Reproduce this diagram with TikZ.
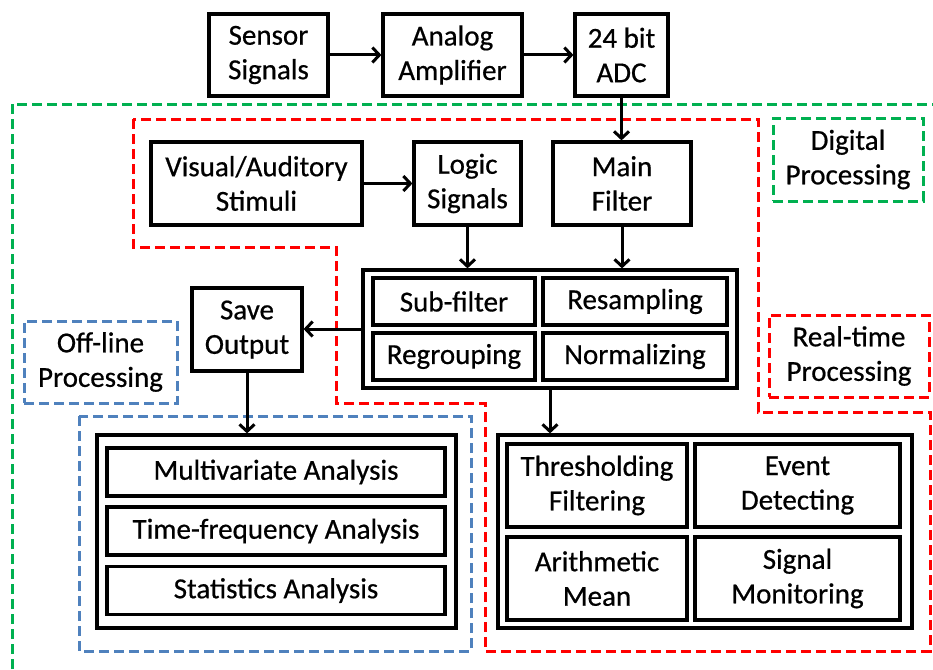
\documentclass[tikz,border=0pt]{standalone}
\usepackage{fontspec}
\setmainfont{Carlito}[FakeBold=0.6]
\usetikzlibrary{arrows.meta}
\definecolor{zonegreen}{RGB}{0,176,80}
\definecolor{zonered}{RGB}{255,0,0}
\definecolor{zoneblue}{RGB}{79,129,189}

\begin{document}
\begin{tikzpicture}[x=1pt,y=-1pt,
  txt/.style={font=\fontsize{29}{34.5}\selectfont, align=center},
  box/.style={txt, draw=black, line width=3.2pt, fill=white, inner sep=0pt},
  frame/.style={draw=black, line width=3.2pt, inner sep=0pt},
  zone/.style={line width=3pt, dash pattern=on 10pt off 5pt},
  tag/.style={txt, zone, inner sep=0pt},
  link/.style={line width=3pt, -{Straight Barb[length=7pt,width=15pt]}}
]
\useasboundingbox (0,0) rectangle (933,669);

% ---- processing zones (dashed outlines) ----
\draw[zone, zonegreen] (12,669) -- (12,104) -- (933,104);
\draw[zone, zonered] (133,119) -- (133,247) -- (336,247) -- (336,403)
  -- (485,403) -- (485,651) -- (930,651) -- (930,412) -- (758,412)
  -- (758,119) -- cycle;
\draw[zone, zoneblue] (79,416) rectangle (471,651);

\node[tag, draw=zonegreen, minimum width=150pt, minimum height=83pt] (digital) at (848,159.5) {Digital\\Processing};
\node[tag, draw=zonered, minimum width=160pt, minimum height=82pt] (realtime) at (849,356) {Real-time\\Processing};
\node[tag, draw=zoneblue, minimum width=153pt, minimum height=82pt] (offline) at (100.5,362) {Off-line\\Processing};

% ---- acquisition chain ----
\node[box, minimum width=119pt, minimum height=82pt] (sensor) at (268.5,55) {Sensor\\Signals};
\node[box, minimum width=139pt, minimum height=82pt] (amp) at (452.5,55) {Analog\\Amplifier};
\node[box, minimum width=93pt, minimum height=82pt] (adc) at (621.5,55) {24 bit\\ADC};

% ---- real-time inputs ----
\node[box, minimum width=211pt, minimum height=83pt] (stim) at (256.5,183.5) {Visual/Auditory\\Stimuli};
\node[box, minimum width=107pt, minimum height=83pt] (logic) at (467.5,183.5) {Logic\\Signals};
\node[box, minimum width=138pt, minimum height=83pt] (mainf) at (622,183.5) {Main\\Filter};

% ---- preprocessing group ----
\node[frame, minimum width=374pt, minimum height=118pt] (pre) at (550,329) {};
\node[box, minimum width=162pt, minimum height=47pt] (subf) at (454,301.5) {Sub-filter};
\node[box, minimum width=184pt, minimum height=47pt] (resamp) at (635,301.5) {Resampling};
\node[box, minimum width=162pt, minimum height=47pt] (regroup) at (454,356.5) {Regrouping};
\node[box, minimum width=184pt, minimum height=47pt] (norm) at (635,356.5) {Normalizing};

\node[box, minimum width=110pt, minimum height=83pt] (save) at (247,329.5) {Save\\Output};

% ---- off-line analysis group ----
\node[frame, minimum width=359pt, minimum height=193pt] (offgrp) at (276.5,531.5) {};
\node[box, minimum width=338pt, minimum height=48pt] (multi) at (276,472) {Multivariate Analysis};
\node[box, minimum width=338pt, minimum height=48pt] (timef) at (276,531) {Time-frequency Analysis};
\node[box, minimum width=338pt, minimum height=48pt] (stats) at (276,590.5) {Statistics Analysis};

% ---- real-time analysis group ----
\node[frame, minimum width=414pt, minimum height=193pt] (rtgrp) at (705,531.5) {};
\node[box, minimum width=180pt, minimum height=83pt] (thresh) at (597,485.5) {Thresholding\\Filtering};
\node[box, minimum width=205pt, minimum height=83pt] (event) at (797.5,485.5) {Event\\Detecting};
\node[box, minimum width=180pt, minimum height=83pt] (arith) at (597,578.5) {Arithmetic\\Mean};
\node[box, minimum width=205pt, minimum height=83pt] (monitor) at (797.5,578.5) {Signal\\Monitoring};

% ---- connectors ----
\draw[link] (sensor) -- (amp);
\draw[link] (amp) -- (adc);
\draw[link] (adc.south) -- (adc.south |- mainf.north);
\draw[link] (stim) -- (logic);
\draw[link] (logic.south) -- (logic.south |- pre.north);
\draw[link] (mainf.south) -- (mainf.south |- pre.north);
\draw[link] (pre.west) -- (pre.west -| save.east);
\draw[link] (save.south) -- (save.south |- offgrp.north);
\draw[link] (pre.south) -- (pre.south |- rtgrp.north);
\end{tikzpicture}
\end{document}
